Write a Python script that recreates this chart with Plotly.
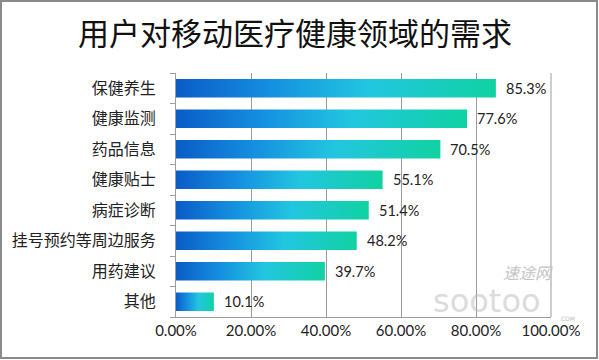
import plotly.graph_objects as go

categories = ["保健养生", "健康监测", "药品信息", "健康贴士", "病症诊断", "挂号预约等周边服务", "用药建议", "其他"]
values = [85.3, 77.6, 70.5, 55.1, 51.4, 48.2, 39.7, 10.1]
x_ticks = [0, 20, 40, 60, 80, 100]
x_tick_labels = ["0.00%", "20.00%", "40.00%", "60.00%", "80.00%", "100.00%"]
title = "用户对移动医疗健康领域的需求"

W, H = 599, 360
L, R, T, B = 176, 48, 73, 43
pw, ph = W - L - R, H - T - B
GRID = "#9c9c9c"

grad = [[0.0, "#0a5cc6"], [0.3, "#1590e0"], [0.6, "#22c6e0"], [1.0, "#10d2a2"]]
half = 0.3

fig = go.Figure()
for i, v in enumerate(values):
    fig.add_trace(go.Scatter(
        x=[0, v, v, 0, 0],
        y=[i - half, i - half, i + half, i + half, i - half],
        mode="lines", fill="toself",
        line=dict(width=0),
        fillgradient=dict(type="horizontal", colorscale=grad),
        hoverinfo="skip", showlegend=False,
    ))

for i, v in enumerate(values):
    fig.add_annotation(x=v, y=i, text=f"{v:.1f}%", showarrow=False,
                       xanchor="left", xshift=8,
                       font=dict(family="Lato, Noto Sans CJK SC", size=14.5, color="#222"))

def px(xp):
    return (xp - L) / pw

def py(yp):
    return (T + ph - yp) / ph

# watermark
fig.add_annotation(xref="paper", yref="paper", x=px(528), y=py(272), xanchor="center", yanchor="middle",
                   text="<i>速途网</i>", showarrow=False,
                   font=dict(family="Noto Sans CJK SC", size=16, color="#c4c4c4"))
fig.add_annotation(xref="paper", yref="paper", x=px(487), y=py(301), xanchor="center", yanchor="middle",
                   text="sootoo", showarrow=False,
                   font=dict(family="DejaVu Sans", size=32, color="rgba(185,185,185,0.5)"))
fig.add_annotation(xref="paper", yref="paper", x=px(567), y=py(318), xanchor="center", yanchor="middle",
                   text=".COM", showarrow=False,
                   font=dict(family="DejaVu Sans", size=6, color="#bbb"))

fig.update_layout(
    width=W, height=H,
    margin=dict(l=L, r=R, t=T, b=B),
    paper_bgcolor="white", plot_bgcolor="white",
    title=dict(text=title, x=295 / W, xref="container", xanchor="center",
               y=1 - 34 / H, yanchor="middle",
               font=dict(family="Noto Sans CJK SC", size=31, color="#111")),
    xaxis=dict(range=[0, 100], tickvals=x_ticks, ticktext=x_tick_labels,
               showgrid=True, gridcolor=GRID, gridwidth=1,
               showline=True, linecolor=GRID, linewidth=1,
               zeroline=False, ticks="",
               tickfont=dict(family="Lato, Noto Sans CJK SC", size=15, color="#222"),
               fixedrange=True),
    yaxis=dict(range=[7.5, -0.5], tickvals=list(range(len(categories))), ticktext=categories,
               showgrid=False, zeroline=False,
               showline=True, linecolor=GRID, linewidth=1,
               ticks="", ticklabelstandoff=16,
               minor=dict(tickmode="array", tickvals=[k - 0.5 for k in range(len(categories) + 1)],
                          ticks="outside", ticklen=5, tickcolor=GRID, showgrid=False),
               tickfont=dict(family="Noto Sans CJK SC", size=16, color="#222"),
               fixedrange=True),
)

# gridline at 100% (range edge)
fig.add_shape(type="line", xref="paper", yref="paper", x0=1, x1=1, y0=0, y1=1,
              line=dict(color=GRID, width=1), layer="above")

# outer border
fig.add_shape(type="rect", xref="paper", yref="paper",
              x0=px(1), x1=px(W - 2), y0=py(H - 2), y1=py(1),
              line=dict(color="#8a8a8a", width=2), layer="above")

fig.write_html("out.html", config={"displayModeBar": False},
               post_script="document.body.style.margin='0';document.body.style.overflow='hidden';")
